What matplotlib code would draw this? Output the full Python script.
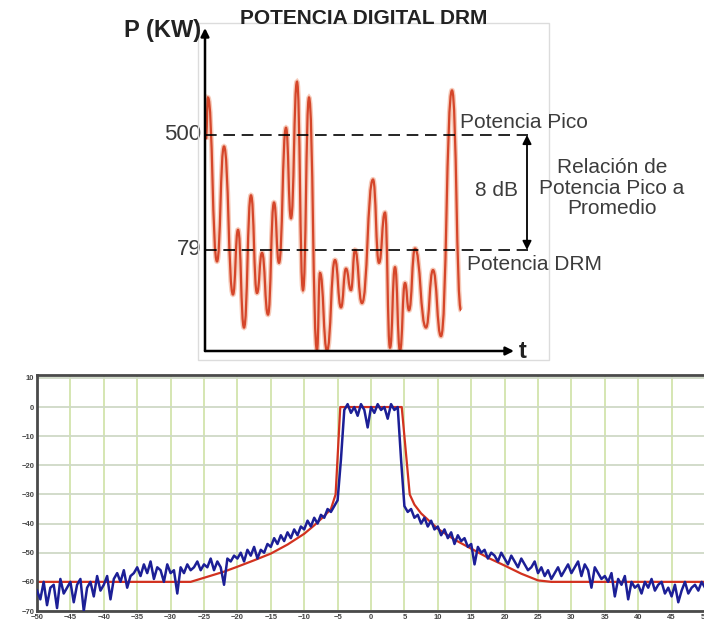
import matplotlib
matplotlib.use("Agg")
import matplotlib.pyplot as plt
from matplotlib.path import Path
from matplotlib.patches import PathPatch, Rectangle
import numpy as np

plt.rcParams['font.family'] = ['Liberation Sans', 'DejaVu Sans']

W, H = 704, 625

##########
# Data   #
##########

# top: DRM envelope, extrema (t in arbitrary units, power in dBkW)
t_ext = [1, 3, 12, 19, 28, 33, 39, 46, 52, 57, 63, 69, 74, 81, 86, 92, 98, 104, 112, 115,
         122, 130, 136, 141, 146, 150, 157, 168, 174, 180, 185, 190, 195, 200, 204, 210,
         221, 228, 236, 247, 256]
p_ext = [26.7, 29.6, 18.2, 26.2, 15.9, 20.4, 13.6, 22.8, 16.0, 18.8, 14.5, 22.3, 18.1, 27.5,
         21.2, 30.7, 16.2, 29.6, 12.0, 17.4, 12.0, 18.3, 15.0, 17.7, 16.2, 19.0, 15.3, 23.9,
         18.1, 21.6, 12.2, 17.8, 12.0, 16.7, 14.8, 19.1, 13.6, 17.6, 13.0, 30.1, 14.8]
level_peak = 27.0   # 500 kW
level_avg = 19.0    # 79 kW
level_labels = ['500', '79']

# bottom: spectrum, blue = measured, red = mask
freq = np.linspace(-50, 50, 201)
blue = [-63, -66, -60, -68, -62, -61, -69, -59, -64, -62,
        -60, -67, -61, -59, -70, -62, -60, -65, -58, -63,
        -61, -58, -66, -59, -57, -60, -56, -62, -58, -57,
        -55, -58, -54, -57, -53, -59, -55, -56, -60, -54,
        -57, -56, -64, -55, -57, -54, -56, -55, -53, -56,
        -54, -55, -52, -56, -53, -55, -61, -52, -53, -51,
        -52, -50, -53, -49, -51, -48, -52, -49, -50, -47,
        -48, -45, -47, -44, -46, -43, -45, -42, -44, -41,
        -42, -39, -41, -38, -40, -37, -38, -35, -36, -34,
        -32, -18, -1, 1, -2, 0, -3, 1, -1, -7,
        0, -2, 1, -1, 0, -4, 1, -1, 0, -18,
        -34, -36, -35, -38, -37, -40, -38, -41, -39, -42,
        -41, -44, -42, -45, -43, -47, -44, -46, -45, -48,
        -47, -54, -48, -50, -49, -52, -50, -51, -53, -50,
        -52, -54, -51, -53, -55, -52, -54, -56, -55, -53,
        -57, -55, -58, -56, -59, -57, -55, -58, -56, -54,
        -57, -55, -53, -58, -54, -56, -62, -55, -57, -59,
        -58, -60, -57, -65, -59, -61, -58, -66, -60, -62,
        -61, -64, -60, -62, -59, -63, -61, -60, -64, -62,
        -65, -61, -67, -63, -60, -64, -62, -61, -63, -60,
        -62]
mask_f = [-50, -27, -25, -22, -20, -17.5, -15, -12.5, -10, -8.5, -7, -6, -5.3, -4.6,
          4.6, 5.8, 6.5, 7.5, 10, 12.5, 15, 17.5, 20, 22.5, 25, 27, 50]
mask_db = [-60, -60, -58.6, -56.5, -54.8, -52.6, -50.3, -47.2, -43.5, -40.6, -37.4, -35, -30, 0,
           0, -30, -33.5, -36.5, -41.8, -45.5, -48.6, -51.7, -54.4, -57.2, -59.5, -60, -60]
xticks = list(range(-50, 51, 5))
yticks = list(range(10, -71, -10))

##########
# Script #
##########

def fx(x):
    return x / W

def fy(y):
    return 1 - y / H

fig = plt.figure(figsize=(W / 100, H / 100), dpi=100)

# faint frame of the top picture
fig.patches.append(Rectangle((fx(198), fy(360)), fx(549) - fx(198), fy(23) - fy(360),
                             transform=fig.transFigure, fill=False, ec='#dcdcdc', lw=1))

# ---- top panel ----
ax1 = fig.add_axes([fx(205), fy(351), fx(549) - fx(205), fy(28) - fy(351)])
ax1.set_xlim(0, 344)
ax1.set_ylim(11.97, 34.44)
ax1.axis('off')

# smooth curve through the extrema (flat tangent at each extremum)
verts = [(t_ext[0], p_ext[0])]
codes = [Path.MOVETO]
for i in range(1, len(t_ext)):
    d = (t_ext[i] - t_ext[i - 1]) / 2
    verts += [(t_ext[i - 1] + d, p_ext[i - 1]), (t_ext[i] - d, p_ext[i]), (t_ext[i], p_ext[i])]
    codes += [Path.CURVE4] * 3
path = Path(verts, codes)
ax1.add_patch(PathPatch(path, fill=False, ec='#f3b49c', lw=3.6, alpha=0.7))
ax1.add_patch(PathPatch(path, fill=False, ec='#d5462a', lw=1.6))

for lv in [level_peak, level_avg]:
    ax1.plot([0, 323], [lv, lv], color='black', lw=1.2, linestyle=(0, (7, 4)))

# axes arrows
ax1.annotate('', xy=(0, 34.44), xytext=(0, 11.97),
             arrowprops=dict(arrowstyle='-|>', color='black', lw=1.8, mutation_scale=12,
                             shrinkA=0, shrinkB=0), annotation_clip=False)
ax1.annotate('', xy=(309, 11.97), xytext=(0, 11.97),
             arrowprops=dict(arrowstyle='-|>', color='black', lw=1.8, mutation_scale=12,
                             shrinkA=0, shrinkB=0), annotation_clip=False)
# 8 dB arrow
ax1.annotate('', xy=(322, level_avg), xytext=(322, level_peak),
             arrowprops=dict(arrowstyle='<|-|>', color='black', lw=1.3, mutation_scale=13,
                             shrinkA=0, shrinkB=0), annotation_clip=False)

for lv, lab in zip([level_peak, level_avg], level_labels):
    ax1.text(-4, lv, lab, ha='right', va='center', fontsize=16, color='#3a3a3a')

gray = '#3c3c3c'
fig.text(fx(201), fy(30), 'P (KW)', ha='right', va='center', fontsize=17,
         fontweight='bold', color='#222222')
fig.text(fx(364), fy(19), 'POTENCIA DIGITAL DRM', ha='center', va='center', fontsize=15,
         fontweight='bold', color='#222222')
fig.text(fx(523), fy(351), 't', ha='center', va='center', fontsize=17,
         fontweight='bold', color='#222222')
fig.text(fx(460), fy(122), 'Potencia Pico', ha='left', va='center', fontsize=15, color=gray)
fig.text(fx(467), fy(264), 'Potencia DRM', ha='left', va='center', fontsize=15, color=gray)
fig.text(fx(518), fy(190), '8 dB', ha='right', va='center', fontsize=15, color=gray)
fig.text(fx(612), fy(188), 'Relación de\nPotencia Pico a\nPromedio', ha='center', va='center',
         fontsize=15, color=gray, linespacing=1.08)

# ---- bottom panel ----
ax2 = fig.add_axes([fx(37), fy(611), fx(705) - fx(37), fy(375) - fy(611)])
ax2.set_xlim(-50, 50)
ax2.set_ylim(-70, 11)
ax2.set_xticks(xticks)
ax2.set_yticks(yticks)
for x in xticks:
    ax2.axvline(x, color='#d2e4ac', lw=1.3, zorder=0)
for y in yticks:
    ax2.axhline(y, color='#cfd9c6', lw=1.3, zorder=0)
ax2.plot(mask_f, mask_db, color='#d2321f', lw=1.6, zorder=2)
ax2.plot(freq, blue, color='#1c1f96', lw=1.8, zorder=3)
for s in ['left', 'top', 'bottom']:
    ax2.spines[s].set_color('#4a4a4a')
    ax2.spines[s].set_linewidth(2)
ax2.spines['right'].set_visible(False)
ax2.tick_params(length=0, pad=2, labelsize=5.5, labelcolor='#444444')
for lab in ax2.get_xticklabels() + ax2.get_yticklabels():
    lab.set_fontweight('bold')

fig.savefig('out.png', dpi=100)
